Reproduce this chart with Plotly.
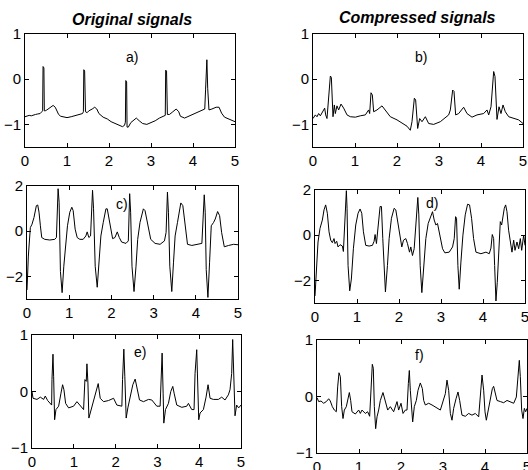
import plotly.graph_objects as go

W, H = 528, 470

# ---- data (time in s, amplitude) ----
t_a = [0.00, 0.05, 0.10, 0.15, 0.20, 0.25, 0.30, 0.36, 0.40, 0.42, 0.43, 0.45, 0.46, 0.48, 0.52, 0.58, 0.62, 0.67,
       0.72, 0.76, 0.80, 0.85, 0.92, 1.00, 1.10, 1.20, 1.30, 1.37, 1.39, 1.40, 1.42, 1.44, 1.48, 1.52, 1.60, 1.66,
       1.71, 1.76, 1.86, 1.96, 2.05, 2.15, 2.25, 2.32, 2.37, 2.39, 2.40, 2.42, 2.43, 2.46, 2.52, 2.58, 2.65, 2.72,
       2.80, 2.90, 3.00, 3.10, 3.20, 3.30, 3.34, 3.35, 3.37, 3.39, 3.44, 3.52, 3.60, 3.66, 3.70, 3.80, 3.90, 4.00,
       4.10, 4.20, 4.28, 4.30, 4.33, 4.35, 4.38, 4.45, 4.55, 4.62, 4.68, 4.75, 4.85, 4.92, 5.00]
v_a = [-0.83, -0.82, -0.80, -0.81, -0.79, -0.78, -0.77, -0.76, -0.72, -0.70, 0.28, 0.25, -0.70, -0.70, -0.68, -0.64,
       -0.62, -0.58, -0.62, -0.70, -0.78, -0.82, -0.84, -0.85, -0.83, -0.80, -0.77, -0.76, -0.72, 0.21, 0.18, -0.72,
       -0.74, -0.70, -0.66, -0.62, -0.66, -0.76, -0.84, -0.88, -0.94, -0.98, -1.03, -1.05, -1.02, -0.95, -0.03, -0.06,
       -1.06, -1.06, -0.96, -0.92, -0.86, -0.92, -0.98, -1.00, -0.96, -0.92, -0.86, -0.82, -0.80, 0.20, 0.18, -0.78,
       -0.78, -0.72, -0.66, -0.72, -0.82, -0.86, -0.82, -0.78, -0.74, -0.70, -0.66, -0.22, 0.43, -0.20, -0.68, -0.66,
       -0.62, -0.62, -0.75, -0.84, -0.88, -0.90, -0.94]

t_b = [0.000, 0.056, 0.095, 0.135, 0.175, 0.238, 0.278, 0.302, 0.333, 0.413, 0.437, 0.476, 0.508, 0.532, 0.571,
       0.611, 0.667, 0.730, 0.810, 0.889, 1.008, 1.127, 1.246, 1.325, 1.349, 1.381, 1.413, 1.444, 1.524, 1.643,
       1.722, 1.841, 2.000, 2.119, 2.238, 2.317, 2.357, 2.413, 2.444, 2.492, 2.540, 2.595, 2.675, 2.754, 2.873,
       3.032, 3.151, 3.230, 3.270, 3.325, 3.357, 3.397, 3.468, 3.587, 3.667, 3.786, 3.905, 4.063, 4.143, 4.183,
       4.238, 4.302, 4.333, 4.381, 4.429, 4.476, 4.524, 4.579, 4.659, 4.778, 4.897, 5.000]
v_b = [-0.87, -0.79, -0.83, -0.76, -0.81, -0.71, -0.64, -0.79, -0.87, 0.07, 0.04, -0.83, -0.57, -0.76, -0.59, -0.68,
       -0.55, -0.64, -0.79, -0.83, -0.84, -0.81, -0.79, -0.68, -0.76, -0.30, -0.35, -0.72, -0.68, -0.59, -0.68, -0.83,
       -0.90, -0.98, -1.04, -1.13, -0.94, -0.42, -0.46, -1.09, -0.87, -0.94, -0.83, -0.98, -1.00, -0.94, -0.84, -0.79,
       -0.68, -0.24, -0.27, -0.79, -0.76, -0.62, -0.76, -0.84, -0.79, -0.76, -0.68, -0.79, -0.61, 0.17, 0.06, -0.89,
       -0.61, -0.76, -0.57, -0.72, -0.83, -0.87, -0.90, -0.98]

t_c = [0.000, 0.032, 0.079, 0.119, 0.166, 0.222, 0.254, 0.285, 0.317, 0.349, 0.420, 0.539, 0.658, 0.697, 0.737,
       0.761, 0.792, 0.832, 0.872, 0.919, 0.959, 1.014, 1.062, 1.094, 1.141, 1.189, 1.252, 1.331, 1.395, 1.426,
       1.466, 1.506, 1.553, 1.577, 1.616, 1.664, 1.704, 1.751, 1.807, 1.870, 1.902, 1.965, 2.029, 2.084, 2.139,
       2.187, 2.242, 2.345, 2.401, 2.433, 2.456, 2.488, 2.536, 2.583, 2.623, 2.678, 2.758, 2.797, 2.861, 2.932,
       3.035, 3.154, 3.257, 3.296, 3.328, 3.352, 3.384, 3.431, 3.471, 3.510, 3.566, 3.645, 3.693, 3.748, 3.803,
       3.906, 4.025, 4.144, 4.200, 4.223, 4.247, 4.287, 4.326, 4.366, 4.422, 4.461, 4.517, 4.564, 4.612, 4.675,
       4.778, 4.897, 5.000]
v_c = [-2.60, -1.10, 0.16, 0.31, 0.61, 1.13, 1.16, 0.84, 0.24, -0.28, -0.36, -0.39, -0.36, -0.28, 1.88, 1.28, -1.78,
       -2.72, -1.55, -0.36, 0.24, 0.84, 1.06, 0.91, 0.09, -0.28, -0.36, -0.36, -0.21, -0.03, -0.28, -0.21, 1.81, 0.99,
       -1.55, -2.48, -1.40, -0.21, 0.39, 0.99, 0.99, 0.24, -0.33, -0.28, -0.03, -0.28, -0.48, -0.54, -0.43, 1.66, 0.84,
       -1.55, -2.67, -1.55, -0.36, 0.39, 0.99, 0.91, 0.31, -0.36, -0.54, -0.58, -0.43, -0.06, 1.73, 0.84, -1.55, -2.67,
       -1.40, -0.21, 0.39, 1.25, 1.13, 0.24, -0.58, -0.63, -0.58, -0.54, 1.61, 0.84, -1.70, -2.93, -1.40, 0.24, 0.39,
       0.54, 0.87, 0.69, -0.06, -0.69, -0.63, -0.58, -0.60]

t_d = [0.000, 0.032, 0.072, 0.119, 0.175, 0.215, 0.254, 0.294, 0.334, 0.374, 0.413, 0.453, 0.477, 0.517, 0.548,
       0.596, 0.652, 0.676, 0.692, 0.723, 0.747, 0.763, 0.787, 0.827, 0.866, 0.914, 0.970, 1.025, 1.073, 1.113,
       1.153, 1.208, 1.288, 1.367, 1.407, 1.431, 1.463, 1.550, 1.582, 1.614, 1.645, 1.677, 1.725, 1.765, 1.820,
       1.884, 1.924, 1.979, 2.027, 2.067, 2.107, 2.162, 2.202, 2.250, 2.281, 2.321, 2.361, 2.401, 2.448, 2.472,
       2.504, 2.544, 2.583, 2.639, 2.695, 2.758, 2.798, 2.838, 2.878, 2.917, 2.981, 3.037, 3.092, 3.196, 3.275,
       3.315, 3.347, 3.370, 3.402, 3.434, 3.474, 3.522, 3.577, 3.633, 3.680, 3.728, 3.776, 3.832, 3.951, 4.070,
       4.149, 4.189, 4.221, 4.253, 4.277, 4.308, 4.340, 4.380, 4.412, 4.444, 4.475, 4.507, 4.539, 4.571, 4.610,
       4.650, 4.690, 4.730, 4.762, 4.809, 4.849, 4.889, 4.921, 4.968, 5.000]
v_d = [-2.69, -1.64, -0.30, 0.30, 0.67, 1.12, 1.34, 0.97, 0.15, -0.22, -0.33, -0.15, -0.37, -0.27, -0.52, -0.42,
       -0.48, -0.72, -0.15, 1.57, 1.97, 1.19, -1.34, -2.46, -1.94, -0.60, 0.45, 0.97, 1.16, 0.97, 0.15, -0.45, -0.48,
       -0.45, -0.27, 0.03, -0.37, 1.27, 1.27, -0.15, -1.34, -2.51, -1.34, -0.15, 0.75, 1.19, 1.12, 0.45, -0.22, -0.52,
       -0.22, -0.15, -0.37, -0.75, -0.52, -0.90, -0.60, 0.45, 1.67, 0.90, -1.34, -2.54, -1.49, -0.15, 0.52, 0.82, 1.04,
       0.67, 0.45, 0.52, 0.00, -0.60, -0.78, -0.75, -0.52, -0.15, 0.82, 0.75, -1.34, -2.39, -1.19, 0.00, 0.90, 1.37,
       1.34, 0.75, -0.15, -0.75, -0.82, -0.75, -0.82, -0.57, 0.03, -0.15, -1.34, -2.91, -2.09, -0.15, 0.60, 0.45, 0.90,
       1.19, 1.34, 1.04, 0.22, -0.30, -0.75, -0.22, -0.67, -0.30, -0.60, -0.15, -0.67, 0.00, -0.45]

t_e = [0.000, 0.024, 0.119, 0.199, 0.279, 0.318, 0.374, 0.438, 0.470, 0.478, 0.502, 0.518, 0.541, 0.573, 0.637,
       0.693, 0.732, 0.764, 0.804, 0.876, 0.995, 1.075, 1.154, 1.234, 1.266, 1.298, 1.314, 1.338, 1.361, 1.393,
       1.457, 1.537, 1.584, 1.632, 1.712, 1.831, 1.951, 2.030, 2.150, 2.166, 2.197, 2.221, 2.253, 2.293, 2.349,
       2.412, 2.468, 2.508, 2.572, 2.667, 2.787, 2.866, 2.986, 3.065, 3.089, 3.113, 3.137, 3.153, 3.193, 3.264,
       3.320, 3.368, 3.400, 3.463, 3.583, 3.702, 3.742, 3.822, 3.877, 3.901, 3.941, 3.965, 3.989, 4.021, 4.100,
       4.164, 4.212, 4.260, 4.339, 4.459, 4.538, 4.618, 4.697, 4.737, 4.777, 4.801, 4.825, 4.857, 4.896, 4.944,
       5.000]
v_e = [0.00, -0.12, -0.14, -0.10, -0.14, -0.08, -0.16, -0.21, -0.24, 0.21, 0.66, 0.26, -0.50, -0.32, -0.26, -0.03,
       0.12, 0.03, -0.21, -0.29, -0.26, -0.18, -0.26, -0.32, 0.21, 0.18, 0.49, 0.15, -0.47, -0.38, -0.21, 0.03, 0.14,
       -0.12, -0.18, -0.16, -0.12, -0.24, -0.26, 0.21, 0.75, 0.26, -0.47, -0.29, -0.12, 0.12, 0.22, 0.06, -0.15, -0.18,
       -0.14, -0.15, -0.26, -0.26, 0.21, 0.68, -0.03, -0.56, -0.32, -0.21, 0.00, 0.09, -0.03, -0.24, -0.28, -0.26,
       -0.21, -0.32, -0.32, 0.32, 0.74, 0.09, -0.50, -0.38, -0.32, -0.10, 0.12, -0.12, -0.14, -0.14, -0.10, -0.15,
       -0.06, 0.03, 0.32, 0.92, 0.26, -0.43, -0.24, -0.29, -0.24]

t_f = [0.000, 0.040, 0.095, 0.159, 0.222, 0.278, 0.317, 0.365, 0.413, 0.460, 0.492, 0.524, 0.556, 0.587, 0.619,
       0.651, 0.698, 0.738, 0.770, 0.802, 0.833, 0.913, 0.992, 1.032, 1.071, 1.151, 1.206, 1.254, 1.286, 1.317,
       1.341, 1.365, 1.397, 1.429, 1.468, 1.508, 1.571, 1.627, 1.683, 1.746, 1.825, 1.905, 1.944, 2.000, 2.048,
       2.103, 2.143, 2.175, 2.198, 2.222, 2.246, 2.278, 2.317, 2.365, 2.405, 2.460, 2.508, 2.540, 2.579, 2.659,
       2.738, 2.817, 2.937, 3.056, 3.095, 3.135, 3.175, 3.214, 3.254, 3.310, 3.357, 3.397, 3.452, 3.532, 3.611,
       3.690, 3.770, 3.849, 3.889, 3.929, 3.968, 4.000, 4.032, 4.079, 4.127, 4.175, 4.206, 4.246, 4.286, 4.365,
       4.444, 4.524, 4.603, 4.683, 4.746, 4.786, 4.817, 4.841, 4.873, 4.905, 4.937, 4.968, 5.000]
v_f = [-0.02, -0.09, -0.08, -0.12, -0.09, -0.04, -0.08, -0.18, -0.24, -0.27, 0.17, 0.42, 0.35, -0.18, -0.39, -0.24,
       -0.18, -0.01, 0.07, -0.07, -0.27, -0.31, -0.24, -0.30, -0.24, -0.30, -0.27, -0.35, 0.05, 0.57, 0.50, -0.18,
       -0.57, -0.36, -0.24, -0.07, 0.07, -0.07, -0.24, -0.18, -0.27, -0.09, -0.24, -0.12, -0.30, -0.24, -0.24, 0.23,
       0.46, 0.11, -0.24, -0.45, -0.18, -0.07, 0.11, 0.24, 0.14, -0.07, -0.15, -0.12, -0.15, -0.18, -0.24, 0.05, 0.29,
       0.11, -0.30, -0.42, -0.21, -0.04, 0.08, -0.07, -0.33, -0.35, -0.30, -0.33, -0.30, -0.36, 0.05, 0.38, 0.11, -0.27,
       -0.42, -0.24, -0.07, 0.14, 0.18, 0.02, -0.07, -0.09, -0.11, -0.07, -0.09, -0.12, -0.01, 0.38, 0.64, 0.35, -0.24,
       -0.39, -0.21, -0.27, -0.21]

x_ticks = [0, 1, 2, 3, 4, 5]
col_titles = ["Original signals", "Compressed signals"]

# panel: data, label, y range, y ticks, box in px (left, right, top, bottom), label position px
panels = [
    (t_a, v_a, "a)", [-1.5, 1], [-1, 0, 1], (25, 235, 34, 147), (132, 57)),
    (t_b, v_b, "b)", [-1.5, 1], [-1, 0, 1], (313, 523, 34, 147), (421, 57)),
    (t_c, v_c, "c)", [-3, 2], [-2, 0, 2], (27, 238, 186, 299), (122, 204)),
    (t_d, v_d, "d)", [-3, 2], [-2, 0, 2], (315, 525, 190, 303), (432, 203)),
    (t_e, v_e, "e)", [-1, 1], [-1, 0, 1], (32, 241, 335, 448), (140, 352)),
    (t_f, v_f, "f)", [-1, 1], [-1, 0, 1], (317, 527, 340, 453), (419, 355)),
]

FONT = "Arial, Liberation Sans, sans-serif"


def note(text, px, py, size=14):
    return dict(text=text, x=px / W, y=1 - py / H, xref="paper", yref="paper",
                xanchor="center", yanchor="middle", showarrow=False,
                font=dict(family=FONT, size=size, color="black"))


fig = go.Figure()
annotations = []
layout = {}
for i, (t, v, lab, yr, yt, box, lpos) in enumerate(panels):
    n = "" if i == 0 else str(i + 1)
    l, r, tp, bt = box
    fig.add_trace(go.Scatter(x=t, y=v, mode="lines", line=dict(color="black", width=1),
                             xaxis="x" + n, yaxis="y" + n, showlegend=False, hoverinfo="skip"))
    ax = dict(showline=True, linecolor="black", linewidth=1, mirror="ticks", ticks="inside",
              ticklen=4, tickcolor="black", showgrid=False, zeroline=False, automargin=False,
              ticklabeloverflow="allow",
              tickfont=dict(family=FONT, size=15, color="black"))
    layout["xaxis" + n] = dict(ax, domain=[l / W, r / W], range=[0, 5], tickvals=x_ticks,
                               anchor="y" + n)
    layout["yaxis" + n] = dict(ax, domain=[1 - bt / H, 1 - tp / H], range=yr, tickvals=yt,
                               anchor="x" + n)
    annotations.append(note(lab, *lpos))

annotations.append(note("<b><i>" + col_titles[0] + "</i></b>", 132, 20, 16))
annotations.append(note("<b><i>" + col_titles[1] + "</i></b>", 417, 18, 16))

fig.update_layout(width=W, height=H, margin=dict(l=0, r=0, t=0, b=0, autoexpand=False),
                  paper_bgcolor="white", plot_bgcolor="white",
                  annotations=annotations, **layout)

fig.write_html("out.html", config={"displayModeBar": False},
               post_script="document.body.style.margin='0';")
